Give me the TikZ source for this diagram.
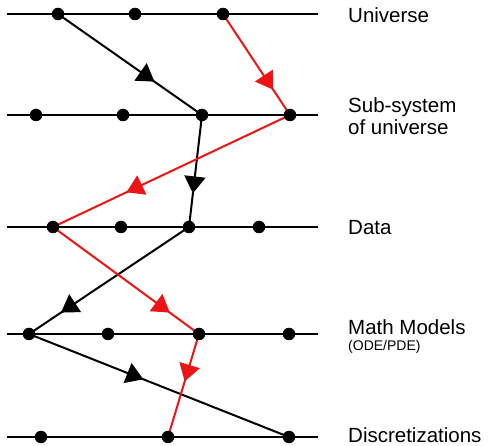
\documentclass[tikz,border=0pt]{standalone}
\usepackage{fontspec}
\setmainfont{Liberation Sans}
\usetikzlibrary{decorations.markings,arrows.meta,backgrounds}
\definecolor{myred}{RGB}{236,20,20}
\tikzset{
  dot/.style={circle,fill=black,inner sep=0pt,minimum size=12.5pt},
  level/.style={line width=2pt,black},
  conn/.style={line width=2pt},
  blk/.style={conn,color=black},
  rd/.style={conn,color=myred},
  midarrow/.style={postaction={decorate,decoration={markings,
      mark=at position #1 with {\arrow{Triangle[length=17pt,width=21pt]}}}}},
  lbl/.style={anchor=base west,inner sep=0pt,font=\fontsize{20.5}{22}\selectfont},
  sublbl/.style={anchor=base west,inner sep=0pt,font=\fontsize{14}{15}\selectfont},
}
\begin{document}
\begin{tikzpicture}[x=1pt,y=-1pt]
\useasboundingbox (0,0) rectangle (491,446);
% dots
\node[dot] (u1) at (58,14) {};
\node[dot] (u2) at (135,14) {};
\node[dot] (u3) at (223,14) {};
\node[dot] (s1) at (36,115) {};
\node[dot] (s2) at (123,115) {};
\node[dot] (s3) at (202,115) {};
\node[dot] (s4) at (290,115) {};
\node[dot] (d1) at (53,227) {};
\node[dot] (d2) at (121,227) {};
\node[dot] (d3) at (189,227) {};
\node[dot] (d4) at (259,227) {};
\node[dot] (m1) at (29,334) {};
\node[dot] (m2) at (108,334) {};
\node[dot] (m3) at (199,334) {};
\node[dot] (m4) at (289,334) {};
\node[dot] (z1) at (41,437) {};
\node[dot] (z2) at (168,437) {};
\node[dot] (z3) at (289,437) {};
% level line ends
\coordinate (a1) at (7,14);   \coordinate (b1) at (318,14);
\coordinate (a2) at (7,115);  \coordinate (b2) at (318,115);
\coordinate (a3) at (7,227);  \coordinate (b3) at (318,227);
\coordinate (a4) at (7,334);  \coordinate (b4) at (318,334);
\coordinate (a5) at (7,437);  \coordinate (b5) at (318,437);
\begin{scope}[on background layer]
  \draw[level] (a1) -- (b1);
  \draw[level] (a2) -- (b2);
  \draw[level] (a3) -- (b3);
  \draw[level] (a4) -- (b4);
  \draw[level] (a5) -- (b5);
  % black path
  \draw[blk,midarrow=0.67] (u1.center) -- (s3.center);
  \draw[blk,midarrow=0.70] (s3.center) -- (d3.center);
  \draw[blk,midarrow=0.80] (d3.center) -- (m1.center);
  \draw[blk,midarrow=0.44] (m1.center) -- (z3.center);
  % red path
  \draw[rd,midarrow=0.75] (u3.center) -- (s4.center);
  \draw[rd,midarrow=0.69] (s4.center) -- (d1.center);
  \draw[rd,midarrow=0.80] (d1.center) -- (m3.center);
  \draw[rd,midarrow=0.46] (m3.center) -- (z2.center);
\end{scope}
% labels
\node[lbl] (tU) at (348,22.5) {Universe};
\node[lbl,align=left] (tS) at (348,135) {Sub-system\\of universe};
\node[lbl] (tD) at (348,234.5) {Data};
\node[lbl] (tM) at (348,335) {Math Models};
\node[sublbl] (tO) at (348,351) {(ODE/PDE)};
\node[lbl] (tZ) at (348,442.5) {Discretizations};
\end{tikzpicture}
\end{document}
